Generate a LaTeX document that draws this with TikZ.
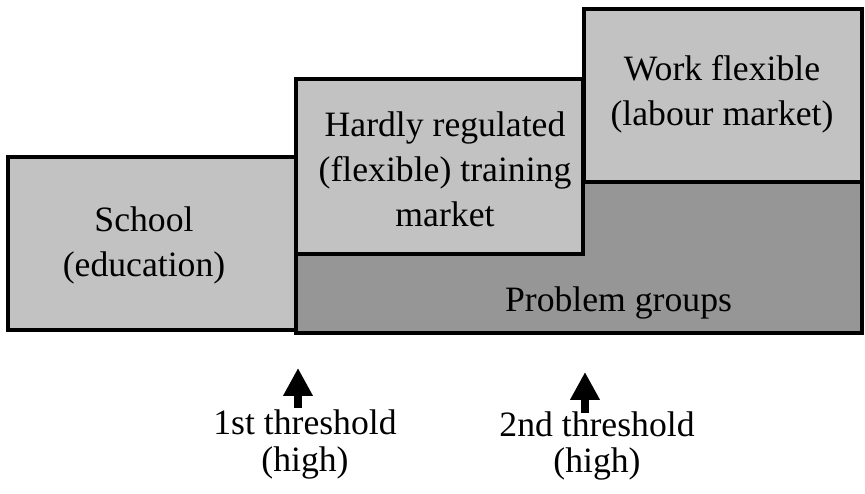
\documentclass[tikz,border=0pt]{standalone}
\usepackage{fontspec}
\setmainfont{Liberation Serif}
\usetikzlibrary{arrows.meta}
\definecolor{lightbox}{RGB}{194,194,194}
\definecolor{darkbox}{RGB}{150,150,150}

\begin{document}
\begin{tikzpicture}[
		box/.style={draw,line width=0.08cm,fill=lightbox},
		lbl/.style={align=center,font=\fontsize{20.3}{25.5}\selectfont},
		thr/.style={-{Triangle[width=0.56cm,length=0.56cm]},line width=0.16cm}]
		\useasboundingbox (0,0) rectangle (17.3,9.88);
		\begin{scope}
			\draw[box] (0.16,3.28) rectangle (5.92,6.74);
			\node[lbl] (school) at (2.88,4.97) {School\\(education)};
			\draw[box,fill=darkbox] (5.91,3.22) rectangle (17.24,6.23);
			\node[lbl] (problem) at (12.37,3.82) {Problem groups};
			\draw[box] (5.91,4.79) rectangle (11.65,8.29);
			\node[lbl] (training) at (8.9,6.5) {Hardly regulated\\(flexible) training\\market};
			\draw[box] (11.67,6.23) rectangle (17.24,9.70);
			\node[lbl] (work) at (14.44,7.99) {Work flexible\\(labour market)};
		\end{scope}
		\begin{scope}[lbl/.append style={font=\fontsize{20.3}{20.8}\selectfont}]
			\node[lbl] (first) at (6.1,0.99) {1st threshold\\(high)};
			\node[lbl] (second) at (11.94,0.96) {2nd threshold\\(high)};
			\coordinate (tail1) at (5.96,1.72);
			\coordinate (tip1) at (5.96,2.52);
			\coordinate (tail2) at (11.7,1.62);
			\coordinate (tip2) at (11.7,2.44);
			\draw[thr] (tail1) -- (tip1);
			\draw[thr] (tail2) -- (tip2);
		\end{scope}
	\end{tikzpicture}
\end{document}
